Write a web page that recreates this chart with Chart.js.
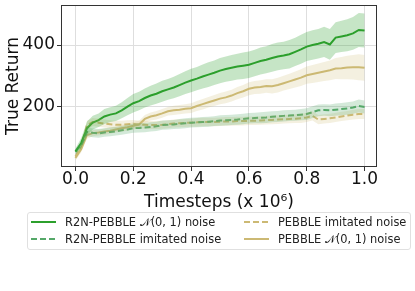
<!DOCTYPE html>
<html>
<head>
<meta charset="utf-8">
<script src="https://cdn.jsdelivr.net/npm/chart.js@4.4.1/dist/chart.umd.min.js"></script>
<style>
    body { margin: 0; background: #fff; }
    #wrap { position: relative; width: 415px; height: 291px; font-family: 'DejaVu Sans', sans-serif; }
    #chart { display: block; }
    #legend {
        position: absolute; left: 27px; top: 212px; width: 384px; height: 38px;
        border: 1px solid #e0e0e0; border-radius: 3px; box-sizing: border-box;
        font-size: 11.4px; color: #222;
    }
    .item { position: absolute; display: flex; align-items: center; white-space: nowrap; }
    .item svg { margin-right: 9px; }
</style>
</head>
<body>
<div id="wrap">
    <canvas id="chart" width="415" height="291"></canvas>
    <div id="legend"></div>
</div>
<script>
// x positions (timesteps, x 10^6)
const steps = [0, 0.02, 0.04, 0.06, 0.08, 0.1, 0.12, 0.14, 0.16, 0.18, 0.2, 0.22, 0.24, 0.26, 0.28, 0.3,
    0.32, 0.34, 0.36, 0.38, 0.4, 0.42, 0.44, 0.46, 0.48, 0.5, 0.52, 0.54, 0.56, 0.58, 0.6, 0.62, 0.64,
    0.66, 0.68, 0.7, 0.72, 0.74, 0.76, 0.78, 0.8, 0.82, 0.84, 0.86, 0.88, 0.9, 0.92, 0.94, 0.96, 0.98, 1.0];

// R2N-PEBBLE N(0,1) noise
const r2nGauss = [54, 82, 130, 148, 156, 168, 174, 178, 188, 200, 211, 218, 228, 236, 242, 250, 256, 262,
    270, 278, 285, 291, 298, 304, 310, 317, 322, 326, 330, 333, 336, 342, 348, 352, 358, 363, 366, 370,
    378, 386, 395, 400, 404, 410, 402, 424, 428, 432, 438, 449, 447];
const r2nGaussStd = [10, 16, 22, 22, 22, 24, 24, 25, 26, 28, 30, 30, 31, 32, 33, 34, 34, 35, 36, 37, 38, 38,
    39, 40, 40, 41, 41, 42, 42, 43, 43, 43, 44, 44, 45, 45, 45, 46, 46, 47, 47, 48, 48, 49, 50, 50, 51, 52,
    53, 55, 55];

// R2N-PEBBLE imitated noise
const r2nImit = [55, 75, 118, 115, 113, 116, 118, 120, 123, 126, 130, 131, 132, 134, 136, 140, 141, 142,
    144, 146, 148, 149, 150, 151, 153, 155, 156, 157, 158, 160, 162, 163, 164, 165, 167, 168, 170, 171,
    172, 174, 176, 182, 188, 189, 188, 190, 192, 194, 197, 202, 199];
const r2nImitStd = [8, 10, 14, 14, 14, 14, 14, 14, 14, 14, 15, 15, 15, 15, 15, 15, 15, 15, 16, 16, 16, 16,
    16, 16, 16, 17, 17, 17, 17, 17, 17, 17, 18, 18, 18, 18, 18, 18, 18, 18, 19, 19, 19, 19, 19, 20, 20, 20,
    20, 21, 21];

// PEBBLE imitated noise
const pebbleImit = [38, 70, 140, 150, 148, 145, 143, 141, 141, 143, 144, 142, 141, 140, 140, 141, 143,
    145, 146, 147, 148, 149, 150, 150, 150, 151, 152, 152, 153, 153, 154, 154, 155, 156, 157, 158, 159,
    160, 161, 162, 165, 170, 158, 160, 162, 165, 168, 171, 174, 176, 176];
const pebbleImitStd = [8, 12, 14, 13, 13, 13, 13, 13, 13, 13, 13, 13, 13, 13, 13, 13, 13, 13, 13, 13, 13, 14,
    14, 14, 14, 14, 14, 14, 14, 14, 14, 14, 14, 14, 14, 14, 14, 14, 14, 15, 15, 15, 15, 15, 15, 15, 15, 15,
    16, 16, 16];

// PEBBLE N(0,1) noise
const pebbleGauss = [33, 62, 108, 114, 116, 119, 122, 126, 130, 133, 138, 142, 160, 168, 172, 178, 185,
    188, 190, 193, 195, 202, 208, 214, 220, 226, 230, 236, 244, 250, 258, 262, 264, 267, 266, 270, 276,
    282, 288, 294, 302, 306, 310, 314, 318, 324, 325, 327, 328, 328, 326];
const pebbleGaussStd = [8, 10, 12, 10, 10, 10, 10, 10, 11, 11, 12, 12, 13, 13, 14, 14, 14, 15, 15, 15, 16, 16,
    17, 17, 18, 18, 19, 19, 20, 20, 21, 21, 22, 22, 23, 24, 24, 25, 26, 27, 28, 29, 30, 31, 32, 34, 36, 38,
    40, 42, 42];

const xTicks = [0, 0.2, 0.4, 0.6, 0.8, 1.0];
const xTickLabels = ['0.0', '0.2', '0.4', '0.6', '0.8', '1.0'];
const yTicks = [200, 400];
const yTickLabels = ['200', '400'];

const GREEN = '#2ca02c';
const GREEN2 = '#55a868';
const TAN = '#ccb974';

const series = [
    { label: 'R2N-PEBBLE 𝒩(0, 1) noise', mean: r2nGauss, std: r2nGaussStd, color: GREEN, band: 'rgba(44,160,44,0.27)', dash: [] },
    { label: 'R2N-PEBBLE imitated noise', mean: r2nImit, std: r2nImitStd, color: GREEN2, band: 'rgba(85,168,104,0.25)', dash: [6, 3] },
    { label: 'PEBBLE imitated noise', mean: pebbleImit, std: pebbleImitStd, color: TAN, band: 'rgba(204,185,116,0.22)', dash: [6, 3] },
    { label: 'PEBBLE 𝒩(0, 1) noise', mean: pebbleGauss, std: pebbleGaussStd, color: TAN, band: 'rgba(204,185,116,0.22)', dash: [] },
];

const pts = (arr) => steps.map((x, i) => ({ x: x, y: arr[i] }));

const datasets = [];
// shaded bands first
series.forEach((s) => {
    datasets.push({
        data: pts(s.mean.map((v, i) => v + s.std[i])),
        borderWidth: 0, pointRadius: 0, backgroundColor: s.band, fill: '+1', tension: 0,
    });
    datasets.push({
        data: pts(s.mean.map((v, i) => v - s.std[i])),
        borderWidth: 0, pointRadius: 0, backgroundColor: s.band, fill: false, tension: 0,
    });
});
// mean lines
series.forEach((s) => {
    datasets.push({
        label: s.label,
        data: pts(s.mean),
        borderColor: s.color,
        borderWidth: 2,
        borderDash: s.dash,
        pointRadius: 0,
        fill: false,
        tension: 0,
    });
});

// frame on all four sides
const framePlugin = {
    id: 'frame',
    afterDraw(chart) {
        const { ctx, chartArea: a } = chart;
        ctx.save();
        ctx.strokeStyle = '#333';
        ctx.lineWidth = 1;
        ctx.strokeRect(a.left + 0.5, a.top + 0.5, a.right - a.left - 1, a.bottom - a.top - 1);
        ctx.restore();
    },
};

const font = { family: "'DejaVu Sans', sans-serif", size: 17 };

new Chart(document.getElementById('chart').getContext('2d'), {
    type: 'line',
    data: { datasets: datasets },
    options: {
        responsive: false,
        animation: false,
        layout: { padding: { left: 3, right: 38, top: 5, bottom: 74 } },
        plugins: { legend: { display: false }, tooltip: { enabled: false } },
        scales: {
            x: {
                type: 'linear',
                min: -0.05,
                max: 1.043,
                afterBuildTicks: (s) => { s.ticks = xTicks.map((v) => ({ value: v })); },
                afterFit: (s) => { s.height = 50; s.paddingLeft = 0; s.paddingRight = 0; },
                ticks: {
                    font: font, color: '#111', padding: -2, maxRotation: 0,
                    callback: (v) => xTickLabels[xTicks.indexOf(v)],
                },
                grid: { color: '#dedede', tickLength: 4, tickColor: '#333' },
                border: { display: false },
                title: { display: true, text: 'Timesteps (x 10⁶)', font: font, color: '#111', padding: { top: 5 } },
            },
            y: {
                min: 4,
                max: 530,
                afterBuildTicks: (s) => { s.ticks = yTicks.map((v) => ({ value: v })); },
                afterFit: (s) => { s.width = 58; s.paddingTop = 0; s.paddingBottom = 0; },
                ticks: {
                    font: font, color: '#111', padding: 2,
                    callback: (v) => yTickLabels[yTicks.indexOf(v)],
                },
                grid: { color: '#dedede', tickLength: 4, tickColor: '#333' },
                border: { display: false },
                title: { display: true, text: 'True Return', font: font, color: '#111', padding: 0 },
            },
        },
    },
    plugins: [framePlugin],
});

// legend, two columns like the original
const legendPos = [
    { left: 3, top: 2 },
    { left: 3, top: 19 },
    { left: 216, top: 2 },
    { left: 216, top: 19 },
];
const legend = document.getElementById('legend');
series.forEach((s, i) => {
    const item = document.createElement('div');
    item.className = 'item';
    item.style.left = legendPos[i].left + 'px';
    item.style.top = legendPos[i].top + 'px';
    const dash = s.dash.length ? `stroke-dasharray="${s.dash.join(' ')}"` : '';
    item.innerHTML = `<svg width="25" height="14"><line x1="0" y1="7" x2="25" y2="7" stroke="${s.color}" stroke-width="2" ${dash}/></svg><span>${s.label}</span>`;
    legend.appendChild(item);
});
</script>
</body>
</html>
